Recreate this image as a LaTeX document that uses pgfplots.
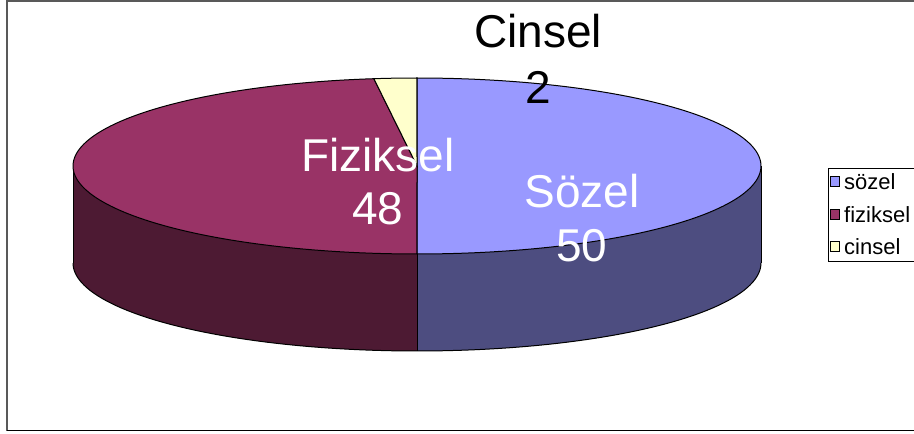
\documentclass[border=0pt]{standalone}
\usepackage{fontspec}
\setmainfont{Liberation Sans}
\usepackage{pgfplots}
\usepackage{pgfplotstable}
\pgfplotsset{compat=1.18}
\usepgfplotslibrary{fillbetween}
\definecolor{topS}{HTML}{9999FF}
\definecolor{sideS}{HTML}{4D4D80}
\definecolor{topF}{HTML}{993366}
\definecolor{sideF}{HTML}{4D1A33}
\definecolor{topC}{HTML}{FFFFCC}
\pgfplotstableread{
kind value
sozel 50
fiziksel 48
cinsel 2
}\piedata
\newcommand\lgf{\fontsize{22}{24}\selectfont}
\begin{document}
\begin{tikzpicture}
\pgfplotstablegetelem{0}{value}\of\piedata \let\vS\pgfplotsretval
\pgfplotstablegetelem{1}{value}\of\piedata \let\vF\pgfplotsretval
\pgfplotstablegetelem{2}{value}\of\piedata \let\vC\pgfplotsretval
\pgfmathsetmacro{\tot}{\vS+\vF+\vC}
\pgfmathsetmacro{\aA}{90}
\pgfmathsetmacro{\aB}{\aA-(\vS/\tot)*360}
\pgfmathsetmacro{\aC}{\aB-(\vF/\tot)*360}
\pgfmathsetmacro{\aD}{\aC-(\vC/\tot)*360}
\def\cx{417}\def\cy{166}\def\rx{344}\def\ry{88}\def\dep{97}
\begin{axis}[
  scale only axis, width=914pt, height=434pt,
  xmin=0, xmax=914, ymin=0, ymax=434, y dir=reverse,
  hide axis, clip=false,
  legend style={at={(axis cs:828,168)}, anchor=north west, draw=black, line width=0.8pt,
    font=\lgf, nodes={font=\lgf, inner sep=2.5pt}, row sep=10pt, inner xsep=1.5pt, inner ysep=3pt,
    cells={anchor=west}},
  legend image code/.code={\draw[#1, line width=0.8pt] (0pt,-4pt) rectangle (9pt,6pt);},
]
% frame
\addplot[forget plot, draw=black!65, line width=1.2pt] coordinates {(7,431) (7,1) (914,1)};
\addplot[forget plot, draw=black, line width=1.5pt] coordinates {(7,430.5) (914,430.5)};
% side of sozel
\addplot[forget plot, name path=sT, draw=none, domain=-90:0, samples=80] ({\cx+\rx*cos(x)},{\cy-\ry*sin(x)});
\addplot[forget plot, name path=sB, draw=none, domain=-90:0, samples=80] ({\cx+\rx*cos(x)},{\cy+\dep-\ry*sin(x)});
\addplot[forget plot, fill=sideS, draw=none] fill between[of=sT and sB];
% side of fiziksel
\addplot[forget plot, name path=fT, draw=none, domain=-180:-90, samples=80] ({\cx+\rx*cos(x)},{\cy-\ry*sin(x)});
\addplot[forget plot, name path=fB, draw=none, domain=-180:-90, samples=80] ({\cx+\rx*cos(x)},{\cy+\dep-\ry*sin(x)});
\addplot[forget plot, fill=sideF, draw=none] fill between[of=fT and fB];
% side outlines
\addplot[forget plot, draw=black, line width=1pt, domain=-180:0, samples=150] ({\cx+\rx*cos(x)},{\cy+\dep-\ry*sin(x)});
\addplot[forget plot, draw=black, line width=1pt] coordinates {(\cx+\rx,\cy) (\cx+\rx,\cy+\dep)};
\addplot[forget plot, draw=black, line width=1pt] coordinates {(\cx-\rx,\cy) (\cx-\rx,\cy+\dep)};
\addplot[forget plot, draw=black, line width=1pt] coordinates {(\cx,\cy+\ry) (\cx,\cy+\ry+\dep)};
% top slices
\addplot[forget plot, fill=topS, draw=black, line width=1pt, domain=\aB:\aA, samples=150] ({\cx+\rx*cos(x)},{\cy-\ry*sin(x)}) -- (\cx,\cy) -- cycle;
\addplot[forget plot, fill=topF, draw=black, line width=1pt, domain=\aC:\aB, samples=150] ({\cx+\rx*cos(x)},{\cy-\ry*sin(x)}) -- (\cx,\cy) -- cycle;
\addplot[forget plot, fill=topC, draw=black, line width=1pt, domain=\aD:\aC, samples=10] ({\cx+\rx*cos(x)},{\cy-\ry*sin(x)}) -- (\cx,\cy) -- cycle;
% labels
\node[anchor=base, font=\fontsize{46}{50}\selectfont, text=black] at (axis cs:538,48) {Cinsel};
\node[anchor=base, font=\fontsize{46}{50}\selectfont, text=black] at (axis cs:538,104) {2};
\node[anchor=base, font=\fontsize{46}{50}\selectfont, text=white] at (axis cs:378,172) {Fiziksel};
\node[anchor=base, font=\fontsize{46}{50}\selectfont, text=white] at (axis cs:378,225) {48};
\node[anchor=base, font=\fontsize{46}{50}\selectfont, text=white] at (axis cs:582,208) {Sözel};
\node[anchor=base, font=\fontsize{46}{50}\selectfont, text=white] at (axis cs:582,262) {50};
% legend
\addlegendimage{fill=topS, draw=black}
\addlegendentry{\lgf\hspace*{2pt}sözel\hspace*{20pt}}
\addlegendimage{fill=topF, draw=black}
\addlegendentry{\lgf\hspace*{2pt}fiziksel\hspace*{20pt}}
\addlegendimage{fill=topC, draw=black}
\addlegendentry{\lgf\hspace*{2pt}cinsel\hspace*{20pt}}
\end{axis}
\pgfresetboundingbox
\path (current axis.south west) rectangle (current axis.north east);
\end{tikzpicture}
\end{document}
